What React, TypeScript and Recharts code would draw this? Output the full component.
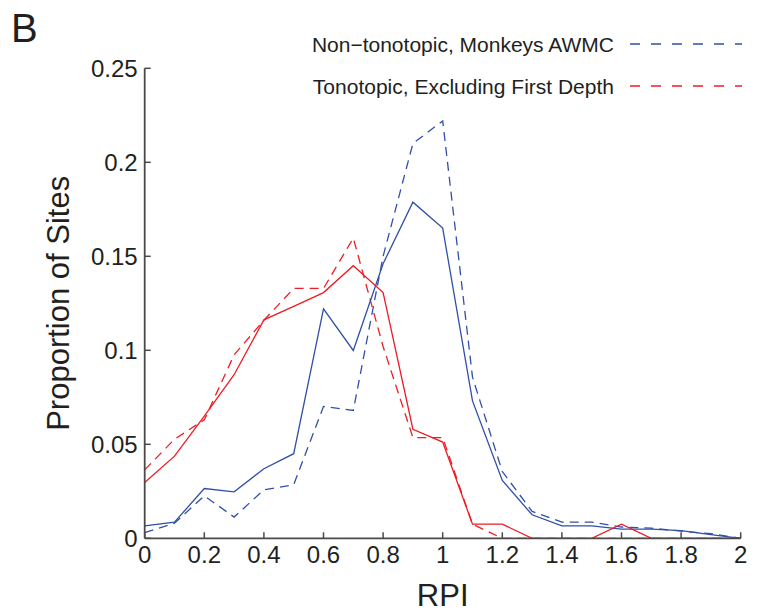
import React from 'react';
import { LineChart, Line, XAxis, YAxis } from 'recharts';

const rpi = [0, 0.1, 0.2, 0.3, 0.4, 0.5, 0.6, 0.7, 0.8, 0.9, 1.0, 1.1, 1.2, 1.3, 1.4, 1.5, 1.6, 1.7, 1.8, 1.9, 2.0];
const nonTonoSolid = [0.0066, 0.0086, 0.0265, 0.0247, 0.037, 0.045, 0.122, 0.0999, 0.146, 0.1788, 0.165, 0.0731, 0.0308, 0.0125, 0.0066, 0.0066, 0.0049, 0.0049, 0.0041, 0.002, 0];
const nonTonoDashed = [0.003, 0.008, 0.0226, 0.0113, 0.0258, 0.0285, 0.0701, 0.068, 0.15, 0.21, 0.222, 0.0857, 0.0355, 0.0143, 0.0086, 0.0086, 0.006, 0.0054, 0.0038, 0.0025, 0];
const tonoSolid = [0.0297, 0.0437, 0.065, 0.087, 0.1162, 0.1234, 0.1307, 0.145, 0.1307, 0.058, 0.0512, 0.0075, 0.0075, 0, 0, 0, 0.0075, 0, 0, 0, 0];
const tonoDashed = [0.0364, 0.0527, 0.063, 0.0976, 0.116, 0.1329, 0.1329, 0.1597, 0.102, 0.0536, 0.0536, 0.0075, 0, 0, 0, 0, 0, 0, 0, 0, 0];

const xTicks = [0, 0.2, 0.4, 0.6, 0.8, 1, 1.2, 1.4, 1.6, 1.8, 2];
const yTicks = [0, 0.05, 0.1, 0.15, 0.2, 0.25];
const legendLabels = ['Non\u2212tonotopic, Monkeys AWMC', 'Tonotopic, Excluding First Depth'];

const data = rpi.map((x, i) => ({
  x,
  ns: nonTonoSolid[i],
  nd: nonTonoDashed[i],
  ts: tonoSolid[i],
  td: tonoDashed[i],
}));

const FONT = '"Liberation Sans", Arial, Helvetica, sans-serif';
const BLUE = '#3050A8';
const RED = '#EE1C25';
const AXIS = '#4a4a4a';
const TEXT = '#231f20';

const fmt = (v: number) => String(Math.round(v * 100) / 100);

export default function App() {
  return (
    <div style={{ position: 'absolute', left: 0, top: 0, width: 765, height: 614, background: '#fff' }}>
      <LineChart
        width={765}
        height={614}
        data={data}
        margin={{ top: 68.3, right: 24.3, bottom: 45.7, left: 84.7 }}
      >
        <XAxis
          dataKey="x"
          type="number"
          domain={[0, 2]}
          ticks={xTicks}
          tickFormatter={fmt}
          height={30}
          axisLine={{ stroke: AXIS, strokeWidth: 1.8 }}
          tickLine={{ stroke: AXIS, strokeWidth: 1.5 }}
          tickSize={-6}
          tickMargin={14}
          tick={{ fontFamily: FONT, fontSize: 24, fill: TEXT }}
          interval={0}
          label={{ value: 'RPI', position: 'insideBottom', offset: -38, fontFamily: FONT, fontSize: 31, fill: TEXT }}
        />
        <YAxis
          type="number"
          domain={[0, 0.25]}
          ticks={yTicks}
          tickFormatter={fmt}
          width={60}
          axisLine={{ stroke: AXIS, strokeWidth: 1.8 }}
          tickLine={{ stroke: AXIS, strokeWidth: 1.5 }}
          tickSize={-6}
          tickMargin={13}
          tick={{ fontFamily: FONT, fontSize: 24, fill: TEXT }}
          interval={0}
          label={{ value: 'Proportion of Sites', angle: -90, position: 'center', dx: -57, fontFamily: FONT, fontSize: 31, fill: TEXT }}
        />
        <Line type="linear" dataKey="nd" stroke={BLUE} strokeWidth={1.3} strokeDasharray="9 6" dot={false} isAnimationActive={false} />
        <Line type="linear" dataKey="td" stroke={RED} strokeWidth={1.3} strokeDasharray="9 6" dot={false} isAnimationActive={false} />
        <Line type="linear" dataKey="ns" stroke={BLUE} strokeWidth={1.3} dot={false} isAnimationActive={false} />
        <Line type="linear" dataKey="ts" stroke={RED} strokeWidth={1.3} dot={false} isAnimationActive={false} />
      </LineChart>
      <svg width={765} height={100} style={{ position: 'absolute', left: 0, top: 0 }}>
        <text x={614} y={44} textAnchor="end" dominantBaseline="central" fontFamily={FONT} fontSize={21} fill={TEXT}>
          {legendLabels[0]}
        </text>
        <line x1={630} y1={44} x2={742} y2={44} stroke={BLUE} strokeWidth={1.3} strokeDasharray="10 11" />
        <text x={614} y={86} textAnchor="end" dominantBaseline="central" fontFamily={FONT} fontSize={21} fill={TEXT}>
          {legendLabels[1]}
        </text>
        <line x1={630} y1={86} x2={742} y2={86} stroke={RED} strokeWidth={1.3} strokeDasharray="10 11" />
      </svg>
      <div style={{ position: 'absolute', left: 11, top: 4, fontFamily: FONT, fontSize: 40, color: TEXT, lineHeight: '48px' }}>B</div>
    </div>
  );
}
